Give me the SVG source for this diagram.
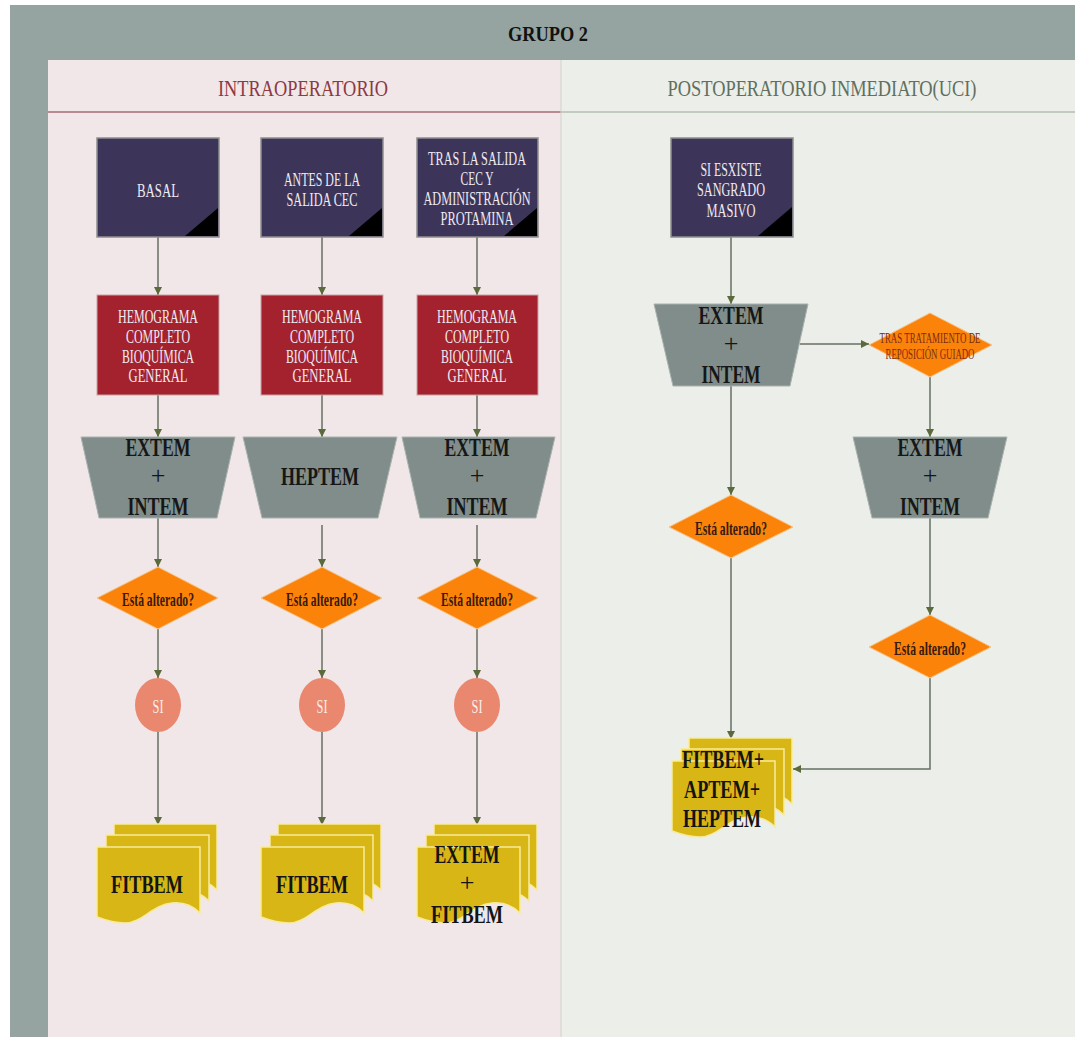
<svg xmlns="http://www.w3.org/2000/svg" xmlns:xlink="http://www.w3.org/1999/xlink" width="1075" height="1037" viewBox="0 0 1075 1037">
<style>
text{font-family:"Liberation Serif","Times New Roman",serif;text-anchor:middle}
.start{fill:#3c3559;stroke:#8e8e8e;stroke-width:1.5}
.corner{fill:#000}
.lab{fill:#efeaf2;font-size:18px}
.red{fill:#a3222e;stroke:#c9a3a6;stroke-width:1}
.trap{fill:#808d8a;stroke:#a9b2af;stroke-width:1}
.tt{fill:#161616;font-size:26px;font-weight:bold}
.dia{fill:#fb8309;stroke:#f6c48a;stroke-width:1}
.dt{fill:#3a1a0e;font-size:19px;font-weight:bold}
.circ{fill:#e9876f}
.si{fill:#fbeee9;font-size:18px}
.doc{fill:#d8b616;stroke:#f7eb9a;stroke-width:1.5}
.dct{fill:#141414;font-size:26px;font-weight:bold}
.con{fill:none;stroke:#667060;stroke-width:1.5;marker-end:url(#ah)}
</style>
<defs>
<marker id="ah" viewBox="0 0 10 10" refX="10" refY="5" markerWidth="8" markerHeight="9" markerUnits="userSpaceOnUse" orient="auto">
<path d="M0,0 L10,5 L0,10 z" fill="#5a6a3a"/>
</marker>
<path id="page" d="M0,0 H103 V66 C95,58 85,55 75,56 C55,58 45,76 28,76 C18,76 8,73 0,70 Z"/>
<g id="docstack">
<use xlink:href="#page" class="doc" transform="translate(17,-23)"/>
<use xlink:href="#page" class="doc" transform="translate(9,-12)"/>
<use xlink:href="#page" class="doc"/>
</g>
</defs>
<rect x="0" y="0" width="1075" height="1037" fill="#ffffff"/>
<rect x="10" y="5" width="1065" height="1032" fill="#95a4a1"/>
<text x="548" y="41" style="font-size:22px;font-weight:bold;fill:#111" textLength="80" lengthAdjust="spacingAndGlyphs">GRUPO 2</text>
<g id="lane-intra">
<rect x="48" y="60" width="513" height="977" fill="#f1e7e8"/>
<line x1="48" y1="112" x2="561" y2="112" stroke="#b98a90" stroke-width="2"/>
<text x="303" y="96" style="font-size:23px;fill:#8c3a44" textLength="170" lengthAdjust="spacingAndGlyphs">INTRAOPERATORIO</text>
</g>
<g id="lane-post">
<rect x="561" y="60" width="514" height="977" fill="#eceee9"/>
<line x1="561" y1="112" x2="1075" y2="112" stroke="#c3cac0" stroke-width="2"/>
<line x1="561" y1="60" x2="561" y2="1037" stroke="#cfd3cc" stroke-width="1"/>
<text x="822" y="96" style="font-size:23px;fill:#5f7060" textLength="309" lengthAdjust="spacingAndGlyphs">POSTOPERATORIO INMEDIATO(UCI)</text>
</g>
<g id="connectors">
<line class="con" x1="158" y1="237" x2="158" y2="295"/>
<line class="con" x1="158" y1="395" x2="158" y2="437"/>
<line class="con" x1="158" y1="518" x2="158" y2="567"/>
<line class="con" x1="158" y1="629" x2="158" y2="678"/>
<line class="con" x1="158" y1="732" x2="158" y2="825"/>
<line class="con" x1="322" y1="237" x2="322" y2="295"/>
<line class="con" x1="322" y1="395" x2="322" y2="437"/>
<line class="con" x1="322" y1="525" x2="322" y2="567"/>
<line class="con" x1="322" y1="629" x2="322" y2="678"/>
<line class="con" x1="322" y1="732" x2="322" y2="825"/>
<line class="con" x1="477" y1="237" x2="477" y2="295"/>
<line class="con" x1="477" y1="395" x2="477" y2="437"/>
<line class="con" x1="477" y1="525" x2="477" y2="567"/>
<line class="con" x1="477" y1="629" x2="477" y2="678"/>
<line class="con" x1="477" y1="732" x2="477" y2="825"/>
<line class="con" x1="731" y1="237" x2="731" y2="304"/>
<line class="con" x1="800" y1="344" x2="869" y2="344"/>
<line class="con" x1="731" y1="386" x2="731" y2="495"/>
<line class="con" x1="731" y1="558" x2="731" y2="739"/>
<line class="con" x1="930" y1="377" x2="930" y2="437"/>
<line class="con" x1="930" y1="518" x2="930" y2="615"/>
<polyline class="con" points="930,678 930,769 793,769"/>
</g>
<g id="basal">
<rect class="start" x="97" y="138" width="122" height="99"/>
<polygon class="corner" points="185,236 218,236 218,208"/>
<text class="lab" x="158" y="197" textLength="42" lengthAdjust="spacingAndGlyphs">BASAL</text>
</g>
<g id="antes">
<rect class="start" x="261" y="138" width="122" height="99"/>
<polygon class="corner" points="349,236 382,236 382,208"/>
<text class="lab" x="322" y="186" textLength="76" lengthAdjust="spacingAndGlyphs">ANTES DE LA</text>
<text class="lab" x="322" y="206" textLength="71" lengthAdjust="spacingAndGlyphs">SALIDA CEC</text>
</g>
<g id="tras">
<rect class="start" x="417" y="138" width="121" height="99"/>
<polygon class="corner" points="504,236 537,236 537,208"/>
<text class="lab" x="477" y="165" textLength="98" lengthAdjust="spacingAndGlyphs">TRAS LA SALIDA</text>
<text class="lab" x="477" y="185" textLength="33" lengthAdjust="spacingAndGlyphs">CEC Y</text>
<text class="lab" x="477" y="205" textLength="107" lengthAdjust="spacingAndGlyphs">ADMINISTRACIÓN</text>
<text class="lab" x="477" y="225" textLength="73" lengthAdjust="spacingAndGlyphs">PROTAMINA</text>
</g>
<g id="sangrado">
<rect class="start" x="671" y="138" width="122" height="99"/>
<polygon class="corner" points="758,236 792,236 792,207"/>
<text class="lab" x="731" y="176" textLength="61" lengthAdjust="spacingAndGlyphs">SI ESXISTE</text>
<text class="lab" x="731" y="196" textLength="68" lengthAdjust="spacingAndGlyphs">SANGRADO</text>
<text class="lab" x="731" y="217" textLength="49" lengthAdjust="spacingAndGlyphs">MASIVO</text>
</g>
<g id="hemo1">
<rect class="red" x="97" y="295" width="122" height="100"/>
<text class="lab" x="158" y="323" textLength="80" lengthAdjust="spacingAndGlyphs">HEMOGRAMA</text>
<text class="lab" x="158" y="343" textLength="64" lengthAdjust="spacingAndGlyphs">COMPLETO</text>
<text class="lab" x="158" y="363" textLength="72" lengthAdjust="spacingAndGlyphs">BIOQUÍMICA</text>
<text class="lab" x="158" y="382" textLength="59" lengthAdjust="spacingAndGlyphs">GENERAL</text>
</g>
<g id="hemo2">
<rect class="red" x="261" y="295" width="122" height="100"/>
<text class="lab" x="322" y="323" textLength="80" lengthAdjust="spacingAndGlyphs">HEMOGRAMA</text>
<text class="lab" x="322" y="343" textLength="64" lengthAdjust="spacingAndGlyphs">COMPLETO</text>
<text class="lab" x="322" y="363" textLength="72" lengthAdjust="spacingAndGlyphs">BIOQUÍMICA</text>
<text class="lab" x="322" y="382" textLength="59" lengthAdjust="spacingAndGlyphs">GENERAL</text>
</g>
<g id="hemo3">
<rect class="red" x="417" y="295" width="121" height="100"/>
<text class="lab" x="477" y="323" textLength="80" lengthAdjust="spacingAndGlyphs">HEMOGRAMA</text>
<text class="lab" x="477" y="343" textLength="64" lengthAdjust="spacingAndGlyphs">COMPLETO</text>
<text class="lab" x="477" y="363" textLength="72" lengthAdjust="spacingAndGlyphs">BIOQUÍMICA</text>
<text class="lab" x="477" y="382" textLength="59" lengthAdjust="spacingAndGlyphs">GENERAL</text>
</g>
<g id="trap1">
<polygon class="trap" points="81,437 235,437 217,518 99,518"/>
<text class="tt" x="158" y="456" textLength="65" lengthAdjust="spacingAndGlyphs">EXTEM</text>
<text class="tt" x="158" y="484" style="font-weight:normal">+</text>
<text class="tt" x="158" y="515" textLength="61" lengthAdjust="spacingAndGlyphs">INTEM</text>
</g>
<g id="trap2">
<polygon class="trap" points="243,437 397,437 378,518 262,518"/>
<text class="tt" x="320" y="485" textLength="78" lengthAdjust="spacingAndGlyphs">HEPTEM</text>
</g>
<g id="trap3">
<polygon class="trap" points="402,437 555,437 536,518 420,518"/>
<text class="tt" x="477" y="456" textLength="65" lengthAdjust="spacingAndGlyphs">EXTEM</text>
<text class="tt" x="477" y="484" style="font-weight:normal">+</text>
<text class="tt" x="477" y="515" textLength="61" lengthAdjust="spacingAndGlyphs">INTEM</text>
</g>
<g id="trap4">
<polygon class="trap" points="654,304 808,304 790,386 673,386"/>
<text class="tt" x="731" y="324" textLength="65" lengthAdjust="spacingAndGlyphs">EXTEM</text>
<text class="tt" x="731" y="352" style="font-weight:normal">+</text>
<text class="tt" x="731" y="383" textLength="59" lengthAdjust="spacingAndGlyphs">INTEM</text>
</g>
<g id="trap5">
<polygon class="trap" points="853,437 1007,437 988,518 872,518"/>
<text class="tt" x="930" y="456" textLength="65" lengthAdjust="spacingAndGlyphs">EXTEM</text>
<text class="tt" x="930" y="484" style="font-weight:normal">+</text>
<text class="tt" x="930" y="515" textLength="60" lengthAdjust="spacingAndGlyphs">INTEM</text>
</g>
<g id="tratamiento">
<polygon class="dia" points="930,313 992,345 930,377 869,345"/>
<text x="930" y="343" style="font-size:14px;fill:#7a2c12" textLength="101" lengthAdjust="spacingAndGlyphs">TRAS TRATAMIENTO DE</text>
<text x="930" y="359" style="font-size:14px;fill:#7a2c12" textLength="89" lengthAdjust="spacingAndGlyphs">REPOSICIÓN GUIADO</text>
</g>
<g id="dec1">
<polygon class="dia" points="158,567 218,598 158,629 97,598"/>
<text class="dt" x="158" y="606" textLength="72" lengthAdjust="spacingAndGlyphs">Está alterado?</text>
</g>
<g id="dec2">
<polygon class="dia" points="322,567 382,598 322,629 261,598"/>
<text class="dt" x="322" y="606" textLength="72" lengthAdjust="spacingAndGlyphs">Está alterado?</text>
</g>
<g id="dec3">
<polygon class="dia" points="477,567 538,598 477,629 417,598"/>
<text class="dt" x="477" y="606" textLength="72" lengthAdjust="spacingAndGlyphs">Está alterado?</text>
</g>
<g id="dec4">
<polygon class="dia" points="731,495 793,527 731,558 669,527"/>
<text class="dt" x="731" y="535" textLength="72" lengthAdjust="spacingAndGlyphs">Está alterado?</text>
</g>
<g id="dec5">
<polygon class="dia" points="930,615 991,647 930,678 869,647"/>
<text class="dt" x="930" y="655" textLength="72" lengthAdjust="spacingAndGlyphs">Está alterado?</text>
</g>
<g id="si1">
<ellipse class="circ" cx="158" cy="705" rx="23" ry="27"/>
<text class="si" x="158" y="713" textLength="11" lengthAdjust="spacingAndGlyphs">SI</text>
</g>
<g id="si2">
<ellipse class="circ" cx="322" cy="705" rx="23" ry="27"/>
<text class="si" x="322" y="713" textLength="11" lengthAdjust="spacingAndGlyphs">SI</text>
</g>
<g id="si3">
<ellipse class="circ" cx="477" cy="705" rx="23" ry="27"/>
<text class="si" x="477" y="713" textLength="11" lengthAdjust="spacingAndGlyphs">SI</text>
</g>
<g id="doc1">
<use xlink:href="#docstack" transform="translate(97,847)"/>
<text class="dct" x="147" y="893" textLength="72" lengthAdjust="spacingAndGlyphs">FITBEM</text>
</g>
<g id="doc2">
<use xlink:href="#docstack" transform="translate(261,847)"/>
<text class="dct" x="312" y="893" textLength="72" lengthAdjust="spacingAndGlyphs">FITBEM</text>
</g>
<g id="doc3">
<use xlink:href="#docstack" transform="translate(417,847)"/>
<text class="dct" x="467" y="863" textLength="65" lengthAdjust="spacingAndGlyphs">EXTEM</text>
<text class="dct" x="467" y="891" style="font-weight:normal">+</text>
<text class="dct" x="467" y="923" textLength="72" lengthAdjust="spacingAndGlyphs">FITBEM</text>
</g>
<g id="doc4">
<use xlink:href="#docstack" transform="translate(672,761)"/>
<text class="dct" x="723" y="768" textLength="82" lengthAdjust="spacingAndGlyphs">FITBEM+</text>
<text class="dct" x="722" y="798" textLength="76" lengthAdjust="spacingAndGlyphs">APTEM+</text>
<text class="dct" x="722" y="827" textLength="78" lengthAdjust="spacingAndGlyphs">HEPTEM</text>
</g>
</svg>
